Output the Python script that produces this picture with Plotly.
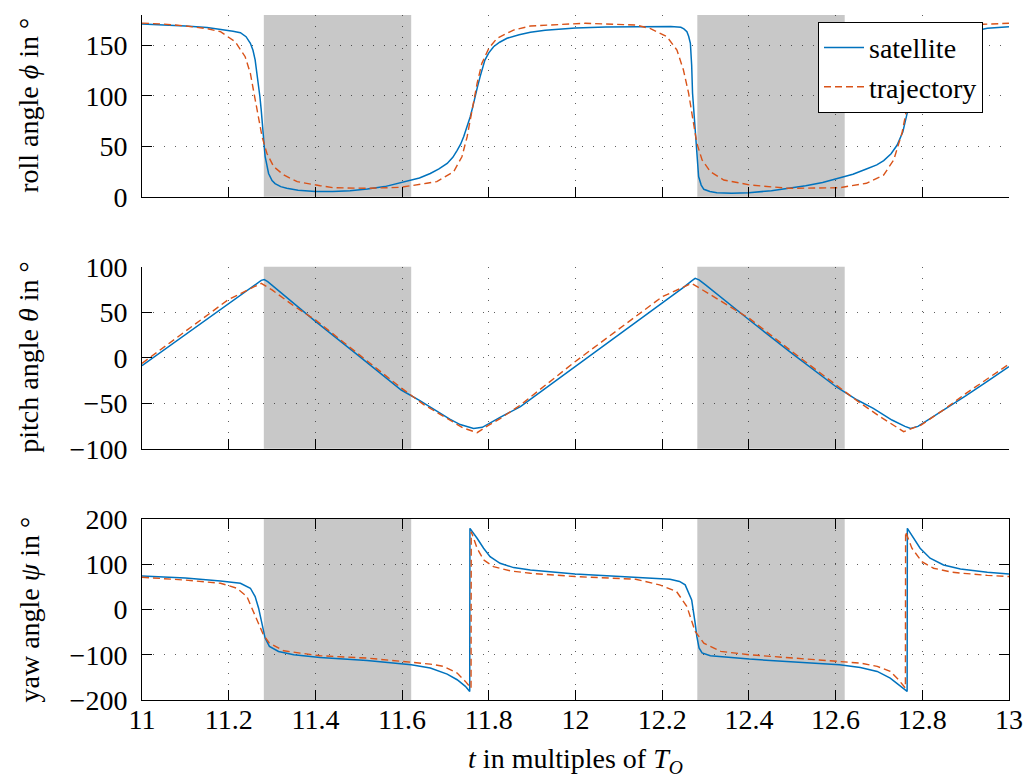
import plotly.graph_objects as go

# ---------------- data ----------------
# roll angle phi
t_roll_sat = [11.000, 11.050, 11.100, 11.150, 11.181, 11.210, 11.227, 11.240, 11.250, 11.256,
              11.261, 11.265, 11.269, 11.272, 11.275, 11.279, 11.284, 11.292, 11.300, 11.307,
              11.320, 11.334, 11.360, 11.400, 11.440, 11.480, 11.520, 11.560, 11.600, 11.640,
              11.665, 11.685, 11.704, 11.717, 11.727, 11.735, 11.742, 11.750, 11.757, 11.763,
              11.768, 11.774, 11.780, 11.786, 11.791, 11.800, 11.811, 11.825, 11.842, 11.870,
              11.896, 11.930, 12.000, 12.070, 12.140, 12.190, 12.220, 12.243, 12.250, 12.257,
              12.261, 12.265, 12.268, 12.270, 12.275, 12.279, 12.284, 12.290, 12.296, 12.310,
              12.326, 12.360, 12.400, 12.452, 12.495, 12.531, 12.570, 12.601, 12.640, 12.671,
              12.695, 12.711, 12.728, 12.742, 12.755, 12.765, 12.777, 12.783, 12.790, 12.800,
              12.812, 12.830, 12.850, 12.880, 12.920, 12.950, 13.000]
roll_sat = [171.0, 170.3, 169.0, 167.5, 166.0, 164.0, 162.5, 158.5, 152.0, 145.0,
            135.5, 124.0, 112.0, 99.0, 86.0, 62.0, 40.0, 23.0, 16.0, 13.0,
            10.0, 8.3, 6.5, 5.2, 5.2, 6.0, 7.6, 10.0, 14.0, 18.5,
            23.0, 27.5, 33.0, 39.0, 46.0, 52.0, 59.4, 69.0, 79.0, 89.0,
            99.0, 109.0, 119.0, 128.0, 135.4, 142.5, 148.6, 153.0, 157.0, 160.5,
            163.0, 165.0, 167.2, 168.2, 168.6, 168.8, 168.5, 167.8, 166.3, 163.5,
            159.0, 152.0, 130.0, 102.4, 69.3, 46.3, 20.0, 11.5, 7.3, 5.2,
            4.0, 3.5, 3.8, 6.0, 8.3, 10.9, 14.0, 17.5, 22.3, 27.4,
            31.5, 35.7, 42.5, 51.2, 64.0, 82.6, 102.4, 112.0, 122.0, 133.0,
            143.0, 151.0, 156.0, 160.5, 164.5, 166.8, 168.4]

t_roll_traj = [11.000, 11.050, 11.100, 11.150, 11.181, 11.215, 11.238, 11.250, 11.257, 11.267,
               11.277, 11.288, 11.304, 11.327, 11.358, 11.411, 11.442, 11.519, 11.596, 11.657,
               11.680, 11.719, 11.738, 11.750, 11.761, 11.773, 11.784, 11.800, 11.819, 11.857,
               11.896, 12.022, 12.139, 12.173, 12.211, 12.234, 12.249, 12.261, 12.271, 12.280,
               12.292, 12.311, 12.342, 12.403, 12.491, 12.609, 12.671, 12.711, 12.734, 12.753,
               12.765, 12.777, 12.790, 12.805, 12.825, 12.860, 12.900, 12.940, 13.000]
roll_traj = [172.0, 171.0, 169.2, 166.5, 163.5, 153.5, 138.7, 122.2, 105.7, 82.6,
             59.4, 43.0, 29.7, 21.5, 14.9, 10.9, 8.9, 8.3, 9.3, 13.3,
             14.9, 24.8, 39.6, 59.4, 85.9, 112.3, 132.1, 147.0, 156.9, 165.1,
             169.1, 171.8, 170.1, 166.5, 158.5, 145.3, 125.5, 102.4, 76.0, 52.9,
             36.4, 24.8, 16.5, 11.6, 8.3, 8.9, 13.3, 21.5, 36.4, 62.8,
             89.2, 114.0, 133.0, 147.0, 157.0, 165.0, 169.0, 170.8, 171.8]

# pitch angle theta
t_pitch_sat = [11.000, 11.100, 11.198, 11.250, 11.265, 11.275, 11.282, 11.290, 11.300, 11.398,
               11.500, 11.598, 11.640, 11.673, 11.710, 11.734, 11.765, 11.785, 11.800, 11.827,
               11.873, 11.999, 12.100, 12.200, 12.250, 12.268, 12.276, 12.285, 12.300, 12.401,
               12.500, 12.601, 12.650, 12.687, 12.730, 12.760, 12.773, 12.790, 12.801, 12.850,
               12.900, 12.950, 13.000]
pitch_sat = [-8.8, 25.0, 57.9, 75.5, 81.5, 85.0, 85.8, 83.5, 79.5, 40.7,
             2.0, -35.5, -47.0, -56.8, -67.5, -73.5, -77.7, -76.5, -72.2, -65.4,
             -53.8, -9.9, 25.5, 59.7, 77.5, 84.5, 87.2, 85.5, 80.0, 41.4,
             4.5, -31.9, -46.5, -55.7, -68.5, -75.5, -77.7, -75.5, -72.2, -57.0,
             -42.0, -26.0, -9.9]

t_pitch_traj = [11.000, 11.100, 11.198, 11.250, 11.275, 11.300, 11.350, 11.400, 11.500, 11.600,
                11.650, 11.700, 11.740, 11.773, 11.800, 11.827, 11.873, 11.999, 12.100, 12.200,
                12.268, 12.300, 12.401, 12.500, 12.601, 12.650, 12.700, 12.757, 12.797, 12.850,
                12.900, 13.000]
pitch_traj = [-6.2, 29.0, 63.4, 76.0, 81.7, 74.5, 57.0, 41.5, 3.5, -34.0,
              -51.5, -66.0, -77.0, -82.4, -74.0, -66.7, -52.0, -4.4, 31.0, 67.0,
              81.7, 72.5, 43.2, 6.5, -30.0, -47.5, -64.0, -81.3, -74.0, -57.0,
              -39.5, -7.0]

# yaw angle psi
t_yaw_sat = [11.000, 11.100, 11.181, 11.227, 11.250, 11.261, 11.269, 11.277, 11.284, 11.294,
             11.315, 11.350, 11.411, 11.519, 11.621, 11.665, 11.704, 11.727, 11.746, 11.756,
             11.7565, 11.773, 11.788, 11.803, 11.826, 11.857, 11.896, 11.999, 12.139, 12.218,
             12.240, 12.253, 12.268, 12.272, 12.276, 12.280, 12.285, 12.292, 12.311, 12.401,
             12.609, 12.657, 12.696, 12.726, 12.749, 12.765, 12.7655, 12.780, 12.795, 12.818,
             12.849, 12.888, 12.950, 13.000]
yaw_sat = [74.2, 69.5, 63.2, 58.0, 47.0, 28.6, 2.9, -33.8, -63.2, -81.7,
           -92.7, -100.0, -106.0, -112.6, -122.1, -129.4, -142.7, -155.2, -169.9, -181.0,
           179.4, 157.4, 135.4, 116.9, 102.2, 92.6, 87.5, 78.7, 71.3, 66.9,
           62.0, 54.4, 21.3, 0.0, -30.0, -60.0, -85.0, -96.0, -102.2, -109.6,
           -122.1, -128.0, -136.8, -151.5, -167.7, -181.0, 179.4, 157.4, 135.4, 113.3,
           98.5, 89.7, 82.5, 78.7]

t_yaw_traj = [11.000, 11.100, 11.181, 11.219, 11.242, 11.257, 11.269, 11.280, 11.294, 11.327,
              11.365, 11.411, 11.519, 11.621, 11.665, 11.696, 11.727, 11.746, 11.759, 11.7595,
              11.773, 11.788, 11.811, 11.850, 11.896, 11.999, 12.139, 12.194, 12.233, 12.257,
              12.276, 12.296, 12.335, 12.401, 12.609, 12.657, 12.696, 12.726, 12.745, 12.761,
              12.7615, 12.776, 12.799, 12.826, 12.865, 12.888, 12.950, 13.000]
yaw_traj = [71.3, 65.0, 58.0, 47.0, 28.6, -4.5, -33.8, -55.9, -74.3, -91.2,
            -96.3, -102.2, -107.4, -116.2, -120.6, -125.8, -140.4, -158.9, -174.0, 172.0,
            135.4, 109.6, 94.8, 85.3, 80.0, 72.8, 66.9, 54.4, 39.7, 6.6,
            -48.5, -74.3, -92.6, -100.0, -114.7, -118.4, -125.8, -136.8, -155.2, -173.5,
            172.0, 135.4, 105.8, 91.2, 83.0, 80.5, 75.5, 72.8]

# shaded intervals
shade_start = [11.281, 12.281]
shade_end = [11.621, 12.621]

series_names = ["satellite", "trajectory"]
y_titles = ["roll angle <i>ϕ</i> in °", "pitch angle <i>θ</i> in °", "yaw angle <i>ψ</i> in °"]
x_title = "<i>t</i> in multiples of <i>T</i><sub><i>O</i></sub>"

# ---------------- styling ----------------
BLUE = "#0072BD"
ORANGE = "#D95319"
FONT = "Liberation Serif"
FS = 28
GRID = "rgba(40,40,40,0.75)"

W, H = 1032, 778
ML, MR, MT, MB = 142, 23, 15, 78
plot_h = H - MT - MB
plot_w = W - ML - MR


def ydom(top_px, bottom_px):
    return [(H - MB - bottom_px) / plot_h, (H - MB - top_px) / plot_h]


domains = [ydom(15, 196.7), ydom(266.7, 448.7), ydom(519, 700)]

fig = go.Figure()

data = [
    (t_roll_sat, roll_sat, t_roll_traj, roll_traj),
    (t_pitch_sat, pitch_sat, t_pitch_traj, pitch_traj),
    (t_yaw_sat, yaw_sat, t_yaw_traj, yaw_traj),
]

for i, (ts, ys, tt, yt) in enumerate(data):
    ax = "" if i == 0 else str(i + 1)
    fig.add_trace(go.Scatter(x=ts, y=ys, mode="lines", name=series_names[0],
                             line=dict(color=BLUE, width=1.5),
                             xaxis="x" + ax, yaxis="y" + ax,
                             showlegend=(i == 0), legendgroup="sat"))
    fig.add_trace(go.Scatter(x=tt, y=yt, mode="lines", name=series_names[1],
                             line=dict(color=ORANGE, width=1.4, dash="7px,4px"),
                             xaxis="x" + ax, yaxis="y" + ax,
                             showlegend=(i == 0), legendgroup="traj"))
    for s0, s1 in zip(shade_start, shade_end):
        fig.add_shape(type="rect", xref="x" + ax, yref="y" + ax + " domain",
                      x0=s0, x1=s1, y0=0, y1=1, fillcolor="rgb(200,200,200)",
                      line=dict(width=0), layer="below")

y_ranges = [[0, 180], [-100, 100], [-200, 200]]
y_dticks = [50, 50, 100]

layout = dict(
    width=W, height=H,
    margin=dict(l=ML, r=MR, t=MT, b=MB, autoexpand=False),
    paper_bgcolor="white", plot_bgcolor="white",
    font=dict(family=FONT, size=FS, color="black"),
    showlegend=True,
    legend=dict(x=(983 - ML) / plot_w, y=(H - MB - 21.7) / plot_h,
                xanchor="right", yanchor="top",
                bgcolor="white", bordercolor="black", borderwidth=1,
                itemwidth=40,
                font=dict(family=FONT, size=FS), tracegroupgap=0),
)

for i in range(3):
    ax = "" if i == 0 else str(i + 1)
    last = (i == 2)
    layout["xaxis" + ax] = dict(
        domain=[0, 1], range=[11, 13], dtick=0.2, tick0=11,
        anchor="y" + ax,
        showline=True, linecolor="black", linewidth=1,
        mirror="ticks" if last else False,
        ticks="inside", ticklen=10, tickwidth=1, tickcolor="black",
        showgrid=True, gridcolor=GRID, gridwidth=1, griddash="1px,10px",
        zeroline=False, showticklabels=last,
        ticklabelstandoff=-6, automargin=False,
        tickfont=dict(family=FONT, size=FS),
        matches=None if i == 0 else "x",
    )
    layout["yaxis" + ax] = dict(
        domain=domains[i], range=y_ranges[i], dtick=y_dticks[i],
        anchor="x" + ax,
        showline=True, linecolor="black", linewidth=1,
        mirror="ticks" if last else False,
        ticks="inside", ticklen=10, tickwidth=1, tickcolor="black",
        showgrid=True, gridcolor=GRID, gridwidth=1, griddash="1px,10px",
        zeroline=False, ticklabelstandoff=8, automargin=False,
        tickfont=dict(family=FONT, size=FS),
    )

layout["xaxis3"]["title"] = dict(text=x_title, font=dict(family=FONT, size=FS), standoff=14)

fig.update_layout(**layout)

for i in range(3):
    d0, d1 = domains[i]
    fig.add_annotation(text=y_titles[i], xref="paper", yref="paper",
                       x=(29 - ML) / plot_w, y=(d0 + d1) / 2,
                       xanchor="center", yanchor="middle", textangle=-90,
                       showarrow=False, font=dict(family=FONT, size=FS))

fig.write_html("out.html", config={"displayModeBar": False})
